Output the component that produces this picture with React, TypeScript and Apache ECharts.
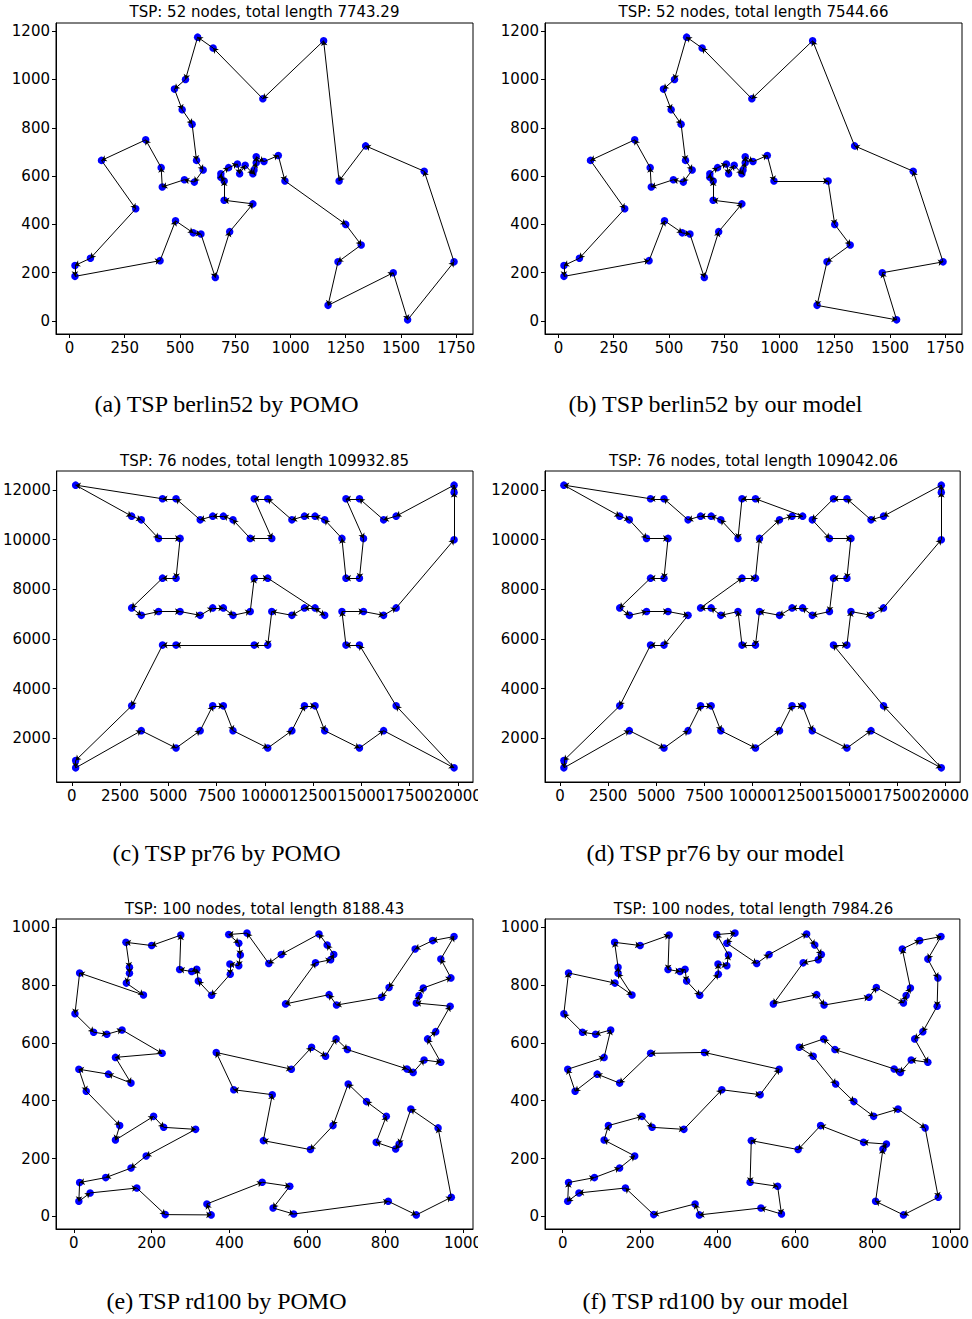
import React, { useEffect, useRef } from "react";
import * as echarts from "echarts";

// ---- berlin52 (TSPLIB node order, 1-based ids in tours) ----
const berlinX = [565,25,345,945,845,880,25,525,580,650,1605,1220,1465,1530,845,725,145,415,510,560,300,520,480,835,975,1215,1320,1250,660,410,420,575,1150,700,685,685,770,795,720,760,475,95,875,700,555,830,1170,830,605,595,1340,1740];
const berlinY = [575,185,750,685,655,660,230,1000,1175,1130,620,580,200,5,680,370,665,635,875,365,465,585,415,625,580,245,315,400,180,250,555,665,1160,580,595,610,610,645,635,650,960,260,920,500,815,485,65,610,625,360,725,245];
const berlinTourPomo = [2,30,23,20,50,29,16,46,44,34,35,36,39,40,37,38,48,24,5,15,6,4,25,28,27,26,47,13,14,52,11,51,12,33,43,10,9,8,41,19,45,32,49,1,22,31,18,3,17,21,42,7];
const berlinTourOurs = [2,30,23,20,50,29,16,46,44,34,35,36,39,40,37,38,48,24,5,15,6,4,25,12,28,27,26,47,14,13,52,11,51,33,43,10,9,8,41,19,45,32,49,1,22,31,18,3,17,21,42,7];
const berlinTicksX = [0,250,500,750,1000,1250,1500,1750];
const berlinTicksY = [0,200,400,600,800,1000,1200];

// ---- pr76 ----
const pr76X = [3600,3100,4700,5400,5608,4493,3600,3100,4700,5400,5610,4492,3600,3100,4700,5400,6650,7300,7300,6650,7300,6650,5400,8350,7850,9450,10150,10358,9243,8350,7850,9450,10150,10360,9242,8350,7850,9450,10150,11400,12050,12050,11400,12050,11400,10150,13100,12600,14200,14900,15108,13993,13100,12600,14200,14900,15110,13992,13100,12600,14200,14900,16150,16800,16800,16150,16800,16150,14900,19800,19800,19800,19800,200,200,200];
const pr76Y = [2300,3300,5750,5750,7103,7102,6950,7250,8450,8450,10053,10052,10800,10950,11650,11650,10800,10950,7250,6950,3300,2300,1600,2300,3300,5750,5750,7103,7102,6950,7250,8450,8450,10053,10052,10800,10950,11650,11650,10800,10950,7250,6950,3300,2300,1600,2300,3300,5750,5750,7103,7102,6950,7250,8450,8450,10053,10052,10800,10950,11650,11650,10800,10950,7250,6950,3300,2300,1600,800,10000,11900,12200,12200,1100,800];
const pr76TourPomo = [76,1,23,22,21,25,24,46,45,44,48,47,69,68,70,67,50,49,52,51,66,65,71,72,73,64,63,62,61,57,56,55,58,59,60,41,40,39,38,34,35,36,37,18,17,16,15,74,14,13,12,11,10,9,8,7,6,5,20,19,31,30,29,32,33,53,54,42,43,28,27,26,4,3,2,75];
const pr76TourOurs = [76,1,23,22,21,25,24,46,45,44,48,47,69,68,70,67,49,50,51,66,65,71,72,73,64,63,62,61,59,58,57,56,55,52,53,54,42,43,28,27,26,29,30,31,19,32,33,34,40,41,60,39,38,35,36,37,18,17,16,15,74,14,13,12,11,10,9,8,7,6,5,20,4,3,2,75];
const pr76TicksX = [0,2500,5000,7500,10000,12500,15000,17500,20000];
const pr76TicksY = [2000,4000,6000,8000,10000,12000];

// ---- rd100 (0-based ids in tours) ----
const rdX = [134,200,275,272,303,316,320,354,402,401,424,428,424,398,445,143,143,135,179,15,3,51,85,124,227,107,147,89,13,32,118,107,205,231,313,186,147,82,15,13,42,162,235,353,342,484,366,411,487,
  501,533,630,651,668,660,621,544,656,675,791,810,877,922,977,943,969,898,887,880,967,930,909,943,900,872,856,703,674,647,611,559,510,
  608,666,705,752,803,777,827,836,866,936,970,880,808,565,512,555];
const rdY = [948,937,973,854,847,855,814,765,838,873,867,904,945,975,980,862,841,807,766,842,701,637,630,645,564,550,461,492,509,433,314,264,346,308,301,209,167,134,117,52,81,98,6,5,43,118,567,438,262,
  875,906,977,939,906,888,877,735,767,731,758,792,925,954,968,890,825,790,764,738,727,639,614,533,541,498,510,577,614,554,585,509,421,
  231,314,458,397,346,256,233,250,371,306,66,5,52,8,29,104];
const rdTourPomo = [3,2,1,0,15,16,17,18,19,20,21,22,23,24,25,26,27,28,29,30,31,32,33,34,35,36,37,38,39,40,41,42,43,44,45,97,96,95,94,93,92,91,90,89,88,87,86,85,84,83,82,48,81,47,46,80,79,78,77,76,75,74,73,72,71,70,69,68,67,66,65,64,63,62,61,60,59,58,57,56,55,54,53,52,51,50,49,14,13,12,11,10,9,8,7,6,5,4];
const rdTourOurs = [0,1,2,3,4,5,6,7,8,9,10,11,13,14,12,49,50,51,52,53,54,55,56,57,58,59,60,68,67,66,61,62,63,64,65,69,70,71,72,73,74,75,76,77,79,78,84,85,86,90,91,92,93,94,88,89,87,83,82,48,45,97,95,96,43,44,42,41,40,39,38,37,36,35,31,30,32,33,34,47,81,80,46,24,26,27,29,28,25,23,22,21,20,19,17,18,16,15];
const rdTicksX = [0,200,400,600,800,1000];
const rdTicksY = [0,200,400,600,800,1000];

const titles = [
  "TSP: 52 nodes, total length 7743.29",
  "TSP: 52 nodes, total length 7544.66",
  "TSP: 76 nodes, total length 109932.85",
  "TSP: 76 nodes, total length 109042.06",
  "TSP: 100 nodes, total length 8188.43",
  "TSP: 100 nodes, total length 7984.26",
];
const captions = [
  "(a) TSP berlin52 by POMO",
  "(b) TSP berlin52 by our model",
  "(c) TSP pr76 by POMO",
  "(d) TSP pr76 by our model",
  "(e) TSP rd100 by POMO",
  "(f) TSP rd100 by our model",
];

const panels = [
  { xs: berlinX, ys: berlinY, tour: berlinTourPomo, base: 1, tx: berlinTicksX, ty: berlinTicksY },
  { xs: berlinX, ys: berlinY, tour: berlinTourOurs, base: 1, tx: berlinTicksX, ty: berlinTicksY },
  { xs: pr76X, ys: pr76Y, tour: pr76TourPomo, base: 1, tx: pr76TicksX, ty: pr76TicksY },
  { xs: pr76X, ys: pr76Y, tour: pr76TourOurs, base: 1, tx: pr76TicksX, ty: pr76TicksY },
  { xs: rdX, ys: rdY, tour: rdTourPomo, base: 0, tx: rdTicksX, ty: rdTicksY },
  { xs: rdX, ys: rdY, tour: rdTourOurs, base: 0, tx: rdTicksX, ty: rdTicksY },
];

const LEFTS = [56, 545];
const TOPS = [23, 471, 919];
const HEIGHTS = [311, 311, 310];
const WIDTH = 417;
const TITLE_Y = [12, 461, 909];
const CAPTION_Y = [404, 853, 1301];
const SANS = "DejaVu Sans";
const SERIF = "Liberation Serif";

function padRange(vals: number[]) {
  const lo = Math.min(...vals);
  const hi = Math.max(...vals);
  const m = (hi - lo) * 0.05;
  return [lo - m, hi + m];
}

const plain = (v: number) => String(v);

function buildOption() {
  const grid: any[] = [];
  const xAxis: any[] = [];
  const yAxis: any[] = [];
  const series: any[] = [];
  const graphic: any[] = [];

  panels.forEach((p, i) => {
    const col = i % 2;
    const row = Math.floor(i / 2);
    const left = LEFTS[col];
    const top = TOPS[row];
    const height = HEIGHTS[row];
    grid.push({ left, top, width: WIDTH, height, show: true, borderColor: "#000", borderWidth: 1, backgroundColor: "#fff", containLabel: false });
    const [x0, x1] = padRange(p.xs);
    const [y0, y1] = padRange(p.ys);
    const common = {
      gridIndex: i,
      type: "value",
      splitLine: { show: false },
      axisLine: { show: true, onZero: false, lineStyle: { color: "#000", width: 1 } },
    };
    xAxis.push({
      ...common,
      min: x0,
      max: x1,
      axisTick: { show: true, length: 4, inside: false, lineStyle: { color: "#000" }, customValues: p.tx },
      axisLabel: { show: true, customValues: p.tx, formatter: plain, color: "#000", fontFamily: SANS, fontSize: 15, margin: 6, hideOverlap: false, showMinLabel: true, showMaxLabel: true },
    });
    yAxis.push({
      ...common,
      min: y0,
      max: y1,
      axisTick: { show: true, length: 4, inside: false, lineStyle: { color: "#000" }, customValues: p.ty },
      axisLabel: { show: true, customValues: p.ty, formatter: plain, color: "#000", fontFamily: SANS, fontSize: 15, margin: 6, showMinLabel: true, showMaxLabel: true },
    });
    const n = p.tour.length;
    const edges = p.tour.map((id, k) => {
      const a = id - p.base;
      const b = p.tour[(k + 1) % n] - p.base;
      return { coords: [[p.xs[a], p.ys[a]], [p.xs[b], p.ys[b]]] };
    });
    series.push({
      type: "scatter",
      xAxisIndex: i,
      yAxisIndex: i,
      data: p.xs.map((x, j) => [x, p.ys[j]]),
      symbol: "circle",
      symbolSize: 7.5,
      itemStyle: { color: "#0000ff", opacity: 1 },
      silent: true,
      z: 2,
    });
    series.push({
      type: "lines",
      coordinateSystem: "cartesian2d",
      xAxisIndex: i,
      yAxisIndex: i,
      data: edges,
      symbol: ["none", "arrow"],
      symbolSize: 5,
      lineStyle: { color: "#000", width: 1, opacity: 1, curveness: 0 },
      silent: true,
      z: 3,
    });
    graphic.push({
      type: "text",
      x: left + WIDTH / 2,
      y: TITLE_Y[row],
      style: { text: titles[i], fill: "#000", font: `15px "${SANS}"`, textAlign: "center", textVerticalAlign: "middle" },
    });
    graphic.push({
      type: "text",
      x: left + WIDTH / 2 - 38,
      y: CAPTION_Y[row],
      style: { text: captions[i], fill: "#000", font: `24px "${SERIF}"`, textAlign: "center", textVerticalAlign: "middle" },
    });
  });

  // the left-column sub-figures are cropped at their right edge, cutting the last x label
  [1, 2].forEach((row) => {
    graphic.push({
      type: "rect",
      shape: { x: 478, y: TOPS[row] + HEIGHTS[row] + 2, width: 14, height: 24 },
      style: { fill: "#fff" },
      z: 100,
    });
  });

  return { animation: false, backgroundColor: "#fff", grid, xAxis, yAxis, series, graphic };
}

export default function App() {
  const ref = useRef<HTMLDivElement>(null);
  useEffect(() => {
    if (!ref.current) return;
    const chart = echarts.init(ref.current, undefined, { renderer: "svg" });
    chart.setOption(buildOption() as any);
    return () => chart.dispose();
  }, []);
  return <div ref={ref} style={{ position: "absolute", left: 0, top: 0, width: 972, height: 1319, background: "#fff" }} />;
}
